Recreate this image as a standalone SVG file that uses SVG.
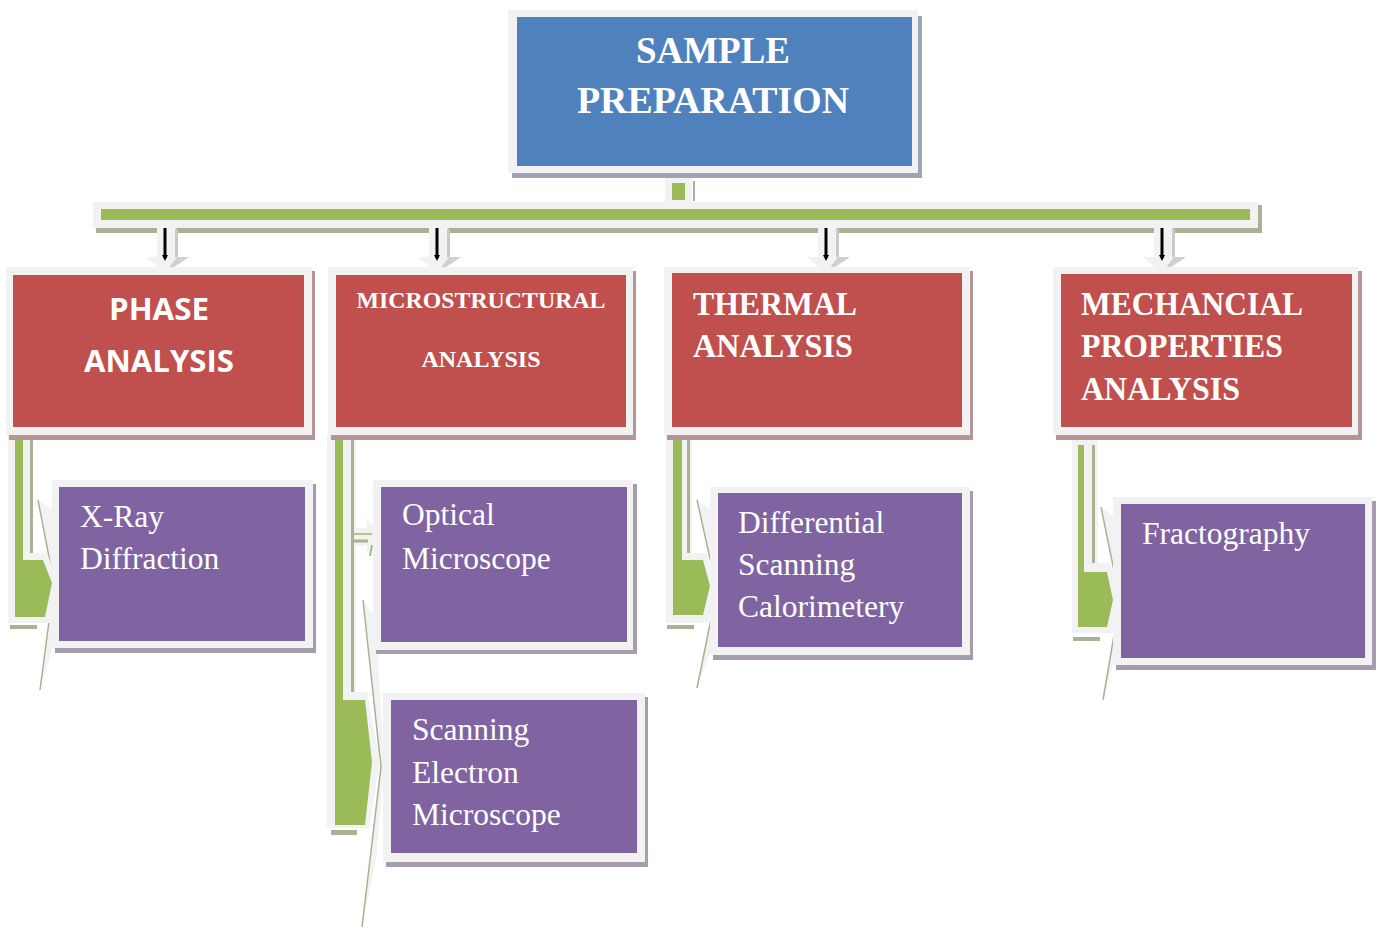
<svg xmlns="http://www.w3.org/2000/svg" width="1378" height="929" viewBox="0 0 1378 929">
<defs>
<style>
.frame{fill:#f2f2f2}
.blue{fill:#4f81bd}
.red{fill:#c0504d}
.purple{fill:#8064a2}
.green{fill:#9bbb59}
.shb{fill:#9ba5b6}
.shr{fill:#b59595}
.shp{fill:#a59cae}
.shg{fill:#a9b294}
.gline{fill:none;stroke:#a9b294;stroke-width:1.5}
.tb{font-family:"Liberation Serif",serif;font-weight:bold;fill:#ffffff}
.ts{font-family:"Open Sans","Liberation Sans",sans-serif;font-weight:bold;fill:#ffffff;font-size:30px}
.tr{font-family:"Liberation Serif",serif;fill:#ffffff;font-size:31.5px}
.arr{fill:none;stroke:#000;stroke-width:3}
</style>
<marker id="ah" markerWidth="6" markerHeight="6" refX="3" refY="3" orient="auto" markerUnits="userSpaceOnUse">
<path d="M0,0 L6,3 L0,6 z" fill="#000"/>
</marker>
</defs>
<rect width="1378" height="929" fill="#ffffff"/>

<g id="connectors">
  <!-- stub under top box -->
  <rect class="frame" x="665" y="178" width="27" height="25"/>
  <rect class="green" x="672" y="183" width="13" height="17"/>
  <rect class="shg" x="693" y="181" width="2" height="20"/>
  <!-- horizontal bar -->
  <rect class="shg" x="96" y="205" width="1166" height="28"/>
  <rect class="frame" x="93" y="202" width="1165" height="26"/>
  <rect class="green" x="101" y="209" width="1149" height="11"/>

  <!-- down arrows -->
  <g id="down1" transform="translate(165,0)">
    <polygon class="frame" points="-8,228 11,228 11,257 24,257 0,273 -19,257 -8,257"/>
    <rect fill="#c9c9c9" x="10" y="229" width="3" height="28"/>
    <polygon fill="#cfcfcf" points="0,273 24,257 12,257"/>
    <line class="arr" x1="0" y1="228" x2="0" y2="258" marker-end="url(#ah)"/>
  </g>
  <g id="down2" transform="translate(437,0)">
    <polygon class="frame" points="-8,228 11,228 11,257 24,257 0,273 -19,257 -8,257"/>
    <rect fill="#c9c9c9" x="10" y="229" width="3" height="28"/>
    <polygon fill="#cfcfcf" points="0,273 24,257 12,257"/>
    <line class="arr" x1="0" y1="228" x2="0" y2="258" marker-end="url(#ah)"/>
  </g>
  <g id="down3" transform="translate(826,0)">
    <polygon class="frame" points="-8,228 11,228 11,257 24,257 0,273 -19,257 -8,257"/>
    <rect fill="#c9c9c9" x="10" y="229" width="3" height="28"/>
    <polygon fill="#cfcfcf" points="0,273 24,257 12,257"/>
    <line class="arr" x1="0" y1="228" x2="0" y2="258" marker-end="url(#ah)"/>
  </g>
  <g id="down4" transform="translate(1162,0)">
    <polygon class="frame" points="-8,228 11,228 11,257 24,257 0,273 -19,257 -8,257"/>
    <rect fill="#c9c9c9" x="10" y="229" width="3" height="28"/>
    <polygon fill="#cfcfcf" points="0,273 24,257 12,257"/>
    <line class="arr" x1="0" y1="228" x2="0" y2="258" marker-end="url(#ah)"/>
  </g>

  <!-- bent arrow: phase -> x-ray -->
  <g id="bent1">
    <polygon class="frame" points="38,500 52,510 58,583 52,650 40,690 54,583"/>
    <polyline class="gline" points="38,500 54,583 40,690"/>
    <rect class="shg" x="10" y="625" width="27" height="4"/>
    <polygon class="frame" points="8,435 33,435 33,553 47,553 58,583 50,623 8,623"/>
    <rect class="shg" x="30" y="437" width="3" height="116"/>
    <polygon class="green" points="15,436 23,436 23,560 43,560 52,583 45,617 15,617"/>
  </g>
  <!-- bent arrow: micro -> optical / sem -->
  <g id="bent2">
    <polygon class="frame" points="363,600 376,620 384,767 376,860 362,927 380,767"/>
    <polyline class="gline" points="363,600 381,767 362,927"/>
    <rect class="shg" x="331" y="830" width="26" height="5"/>
    <polygon class="frame" points="327,435 356,435 356,692 367,692 380,762 369,828 327,828"/>
    <rect class="shg" x="351" y="437" width="3" height="255"/>
    <polygon class="green" points="335,436 343,436 343,700 365,700 372,762 365,825 335,825"/>
    <polygon class="frame" points="355,528 367,528 367,518 380,537 367,555 367,546 355,546"/>
    <line x1="353" y1="534" x2="372" y2="534" stroke="#9bbb59" stroke-width="1.5"/>
    <line x1="353" y1="541" x2="368" y2="541" stroke="#a9b294" stroke-width="3"/>
    <line x1="372" y1="545" x2="370" y2="556" stroke="#a9b294" stroke-width="2"/>
  </g>
  <!-- bent arrow: thermal -> dsc -->
  <g id="bent3">
    <polygon class="frame" points="697,500 711,510 720,590 711,650 697,688 716,590"/>
    <polyline class="gline" points="697,500 717,590 697,688"/>
    <rect class="shg" x="667" y="625" width="27" height="4"/>
    <polygon class="frame" points="666,435 692,435 692,553 706,553 716,586 708,623 666,623"/>
    <rect class="shg" x="687" y="437" width="3" height="116"/>
    <polygon class="green" points="673,436 682,436 682,560 703,560 710,586 703,615 673,615"/>
  </g>
  <!-- bent arrow: mech -> fractography -->
  <g id="bent4">
    <polygon class="frame" points="1101,507 1114,517 1122,600 1114,660 1103,700 1119,600"/>
    <polyline class="gline" points="1101,507 1120,600 1103,700"/>
    <rect class="shg" x="1073" y="637" width="27" height="4"/>
    <polygon class="frame" points="1072,440 1098,440 1098,563 1110,563 1122,600 1112,633 1072,633"/>
    <rect class="shg" x="1092" y="445" width="3" height="118"/>
    <polygon class="green" points="1078,445 1084,445 1084,572 1107,572 1113,600 1107,627 1078,627"/>
  </g>
</g>

<g id="sample-preparation">
  <rect class="shb" x="512" y="16" width="410" height="162"/>
  <rect class="frame" x="508" y="10" width="410" height="163"/>
  <rect class="blue" x="517" y="17" width="395" height="149"/>
  <text class="tb" x="713" y="63" font-size="38" text-anchor="middle" textLength="154" lengthAdjust="spacingAndGlyphs">SAMPLE</text>
  <text class="tb" x="713" y="113" font-size="38" text-anchor="middle" textLength="272" lengthAdjust="spacingAndGlyphs">PREPARATION</text>
</g>

<g id="phase-analysis">
  <rect class="shr" x="9" y="271" width="306" height="169"/>
  <rect class="frame" x="6" y="267" width="306" height="168"/>
  <rect class="red" x="13" y="275" width="291" height="152"/>
  <text class="ts" x="159" y="320" text-anchor="middle" textLength="100" lengthAdjust="spacingAndGlyphs">PHASE</text>
  <text class="ts" x="159" y="372" text-anchor="middle" textLength="150" lengthAdjust="spacingAndGlyphs">ANALYSIS</text>
</g>

<g id="microstructural-analysis">
  <rect class="shr" x="331" y="271" width="305" height="169"/>
  <rect class="frame" x="328" y="267" width="305" height="168"/>
  <rect class="red" x="336" y="275" width="290" height="152"/>
  <text class="tb" x="481" y="308" font-size="24" text-anchor="middle" textLength="249" lengthAdjust="spacingAndGlyphs">MICROSTRUCTURAL</text>
  <text class="tb" x="481" y="367" font-size="24" text-anchor="middle" textLength="119" lengthAdjust="spacingAndGlyphs">ANALYSIS</text>
</g>

<g id="thermal-analysis">
  <rect class="shr" x="667" y="271" width="306" height="169"/>
  <rect class="frame" x="664" y="267" width="306" height="168"/>
  <rect class="red" x="672" y="273" width="290" height="154"/>
  <text class="tb" x="693" y="315" font-size="34" textLength="164" lengthAdjust="spacingAndGlyphs">THERMAL</text>
  <text class="tb" x="693" y="357" font-size="34" textLength="160" lengthAdjust="spacingAndGlyphs">ANALYSIS</text>
</g>

<g id="mechanical-properties-analysis">
  <rect class="shr" x="1056" y="271" width="306" height="169"/>
  <rect class="frame" x="1053" y="267" width="305" height="168"/>
  <rect class="red" x="1061" y="274" width="291" height="153"/>
  <text class="tb" x="1081" y="315" font-size="34" textLength="222" lengthAdjust="spacingAndGlyphs">MECHANCIAL</text>
  <text class="tb" x="1081" y="357" font-size="34" textLength="202" lengthAdjust="spacingAndGlyphs">PROPERTIES</text>
  <text class="tb" x="1081" y="400" font-size="34" textLength="159" lengthAdjust="spacingAndGlyphs">ANALYSIS</text>
</g>

<g id="x-ray-diffraction">
  <rect class="shp" x="55" y="484" width="261" height="169"/>
  <rect class="frame" x="52" y="480" width="261" height="168"/>
  <rect class="purple" x="59" y="487" width="246" height="154"/>
  <text class="tr" x="80" y="527">X-Ray</text>
  <text class="tr" x="80" y="569">Diffraction</text>
</g>

<g id="optical-microscope">
  <rect class="shp" x="376" y="484" width="261" height="170"/>
  <rect class="frame" x="373" y="480" width="260" height="170"/>
  <rect class="purple" x="381" y="487" width="246" height="155"/>
  <text class="tr" x="402" y="525">Optical</text>
  <text class="tr" x="402" y="569">Microscope</text>
</g>

<g id="scanning-electron-microscope">
  <rect class="shp" x="386" y="697" width="262" height="170"/>
  <rect class="frame" x="383" y="693" width="262" height="169"/>
  <rect class="purple" x="391" y="700" width="246" height="153"/>
  <text class="tr" x="412" y="740">Scanning</text>
  <text class="tr" x="412" y="783">Electron</text>
  <text class="tr" x="412" y="825">Microscope</text>
</g>

<g id="differential-scanning-calorimetery">
  <rect class="shp" x="713" y="491" width="260" height="169"/>
  <rect class="frame" x="710" y="487" width="260" height="168"/>
  <rect class="purple" x="718" y="493" width="244" height="154"/>
  <text class="tr" x="738" y="533">Differential</text>
  <text class="tr" x="738" y="575">Scanning</text>
  <text class="tr" x="738" y="617">Calorimetery</text>
</g>

<g id="fractography">
  <rect class="shp" x="1116" y="501" width="260" height="169"/>
  <rect class="frame" x="1113" y="497" width="259" height="168"/>
  <rect class="purple" x="1121" y="504" width="244" height="154"/>
  <text class="tr" x="1142" y="544">Fractography</text>
</g>
</svg>
